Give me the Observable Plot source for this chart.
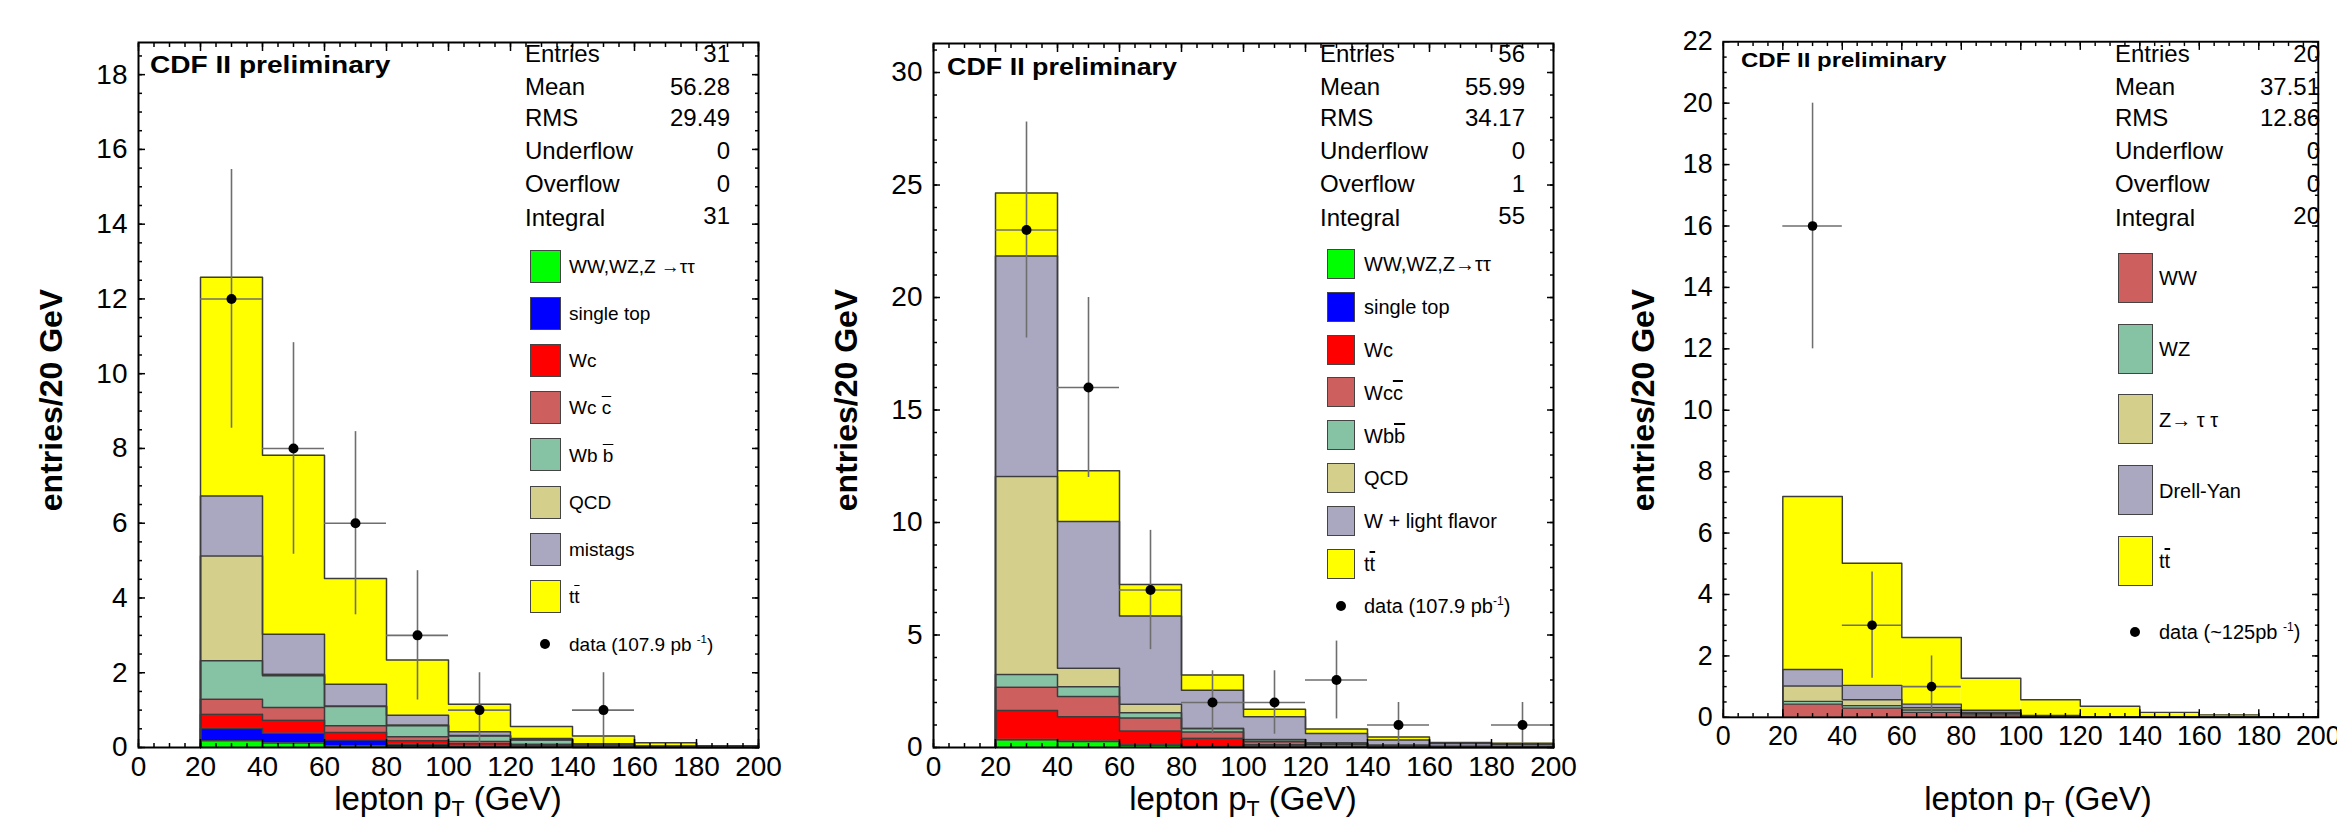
<!DOCTYPE html>
<html><head><meta charset="utf-8">
<script src="https://cdn.jsdelivr.net/npm/d3@7"></script>
<script src="https://cdn.jsdelivr.net/npm/@observablehq/plot@0.6"></script>
<style>
html,body{margin:0;padding:0;width:2337px;height:820px;overflow:hidden;background:#fff;}
body{position:relative;font-family:"Liberation Sans",Arial,Helvetica,sans-serif;color:#000;}
.panel{position:absolute;top:0;height:820px;}
.ov{position:absolute;white-space:nowrap;line-height:1;width:max-content;}
.ol{text-decoration:overline;}
sup{font-size:0.6em;vertical-align:0.7em;line-height:0;}
sub{font-size:0.65em;vertical-align:-0.3em;line-height:0;}
</style></head><body>
<div id="p1" class="panel" style="left:0px"></div>
<div id="p2" class="panel" style="left:800px"></div>
<div id="p3" class="panel" style="left:1600px"></div>
<script>
// ---------- shared ----------
const binLo = [20, 40, 60, 80, 100, 120, 140, 160, 180];
const binHi = [40, 60, 80, 100, 120, 140, 160, 180, 200];
const xTicks = [0, 20, 40, 60, 80, 100, 120, 140, 160, 180, 200];
const statLabels = ["Entries", "Mean", "RMS", "Underflow", "Overflow", "Integral"];

// ---------- panel 1 ----------
const p1Series = ["WW,WZ,Z →ττ", "single top", "Wc", "Wc c̄", "Wb b̄", "QCD", "mistags", "tt̄"];
const p1Labels = ["WW,WZ,Z →ττ", "single top", "Wc", "Wc <span class='ol'>c</span>", "Wb <span class='ol'>b</span>", "QCD", "mistags", "t<span class='ol'>t</span>"];
const p1Colors = ["#00ff00", "#0000ff", "#ff0000", "#cd5f5f", "#86c2a4", "#d4d08c", "#aaa7c0", "#ffff00"];
const p1Ewk      = [0.18, 0.12, 0.04, 0.02, 0.01, 0.005, 0, 0, 0];
const p1SingleTop= [0.33, 0.26, 0.16, 0.07, 0.02, 0.015, 0.01, 0, 0];
const p1Wc       = [0.38, 0.35, 0.20, 0.09, 0.07, 0.03, 0.02, 0.01, 0];
const p1Wcc      = [0.40, 0.34, 0.18, 0.11, 0.06, 0.04, 0.02, 0.01, 0.01];
const p1Wbb      = [1.03, 0.85, 0.52, 0.29, 0.15, 0.11, 0.03, 0.01, 0];
const p1Qcd      = [2.80, 0.04, 0.01, 0.02, 0.01, 0.01, 0, 0, 0];
const p1Mistags  = [1.61, 1.07, 0.58, 0.26, 0.10, 0.03, 0.02, 0.01, 0.01];
const p1Ttbar    = [5.85, 4.79, 2.83, 1.48, 0.74, 0.32, 0.21, 0.09, 0.03];
const p1DataX  = [30, 50, 70, 90, 110, 150];
const p1DataY  = [12, 8, 6, 3, 1, 1];
const p1DataLo = [8.54, 5.17, 3.55, 1.27, 0, 0];
const p1DataHi = [15.46, 10.83, 8.45, 4.73, 2, 2];
const p1DataXLo = [20, 40, 60, 80, 100, 140];
const p1DataXHi = [40, 60, 80, 100, 120, 160];
const p1Stats = ["31", "56.28", "29.49", "0", "0", "31"];
const p1YTicks = [0, 2, 4, 6, 8, 10, 12, 14, 16, 18];
const p1DataLabel = "data (107.9 pb <sup>-1</sup>)";

// ---------- panel 2 ----------
const p2Series = ["WW,WZ,Z→ττ", "single top", "Wc", "Wcc̄", "Wbb̄", "QCD", "W + light flavor", "tt̄"];
const p2Labels = ["WW,WZ,Z→ττ", "single top", "Wc", "Wc<span class='ol'>c</span>", "Wb<span class='ol'>b</span>", "QCD", "W + light flavor", "t<span class='ol'>t</span>"];
const p2Colors = ["#00ff00", "#0000ff", "#ff0000", "#cd5f5f", "#86c2a4", "#d4d08c", "#aaa7c0", "#ffff00"];
const p2Ewk      = [0.34, 0.27, 0.10, 0.03, 0.01, 0.01, 0, 0, 0];
const p2SingleTop= [0.02, 0.01, 0.01, 0.01, 0.01, 0, 0, 0, 0];
const p2Wc       = [1.28, 1.09, 0.62, 0.37, 0.10, 0.05, 0.03, 0.01, 0.01];
const p2Wcc      = [1.04, 0.90, 0.58, 0.28, 0.14, 0.09, 0.05, 0.03, 0.02];
const p2Wbb      = [0.57, 0.43, 0.24, 0.15, 0.09, 0.05, 0.02, 0.01, 0.01];
const p2Qcd      = [8.80, 0.82, 0.37, 0.01, 0.01, 0, 0, 0, 0];
const p2WLight   = [9.80, 6.53, 3.93, 1.69, 1.01, 0.42, 0.23, 0.13, 0.11];
const p2Ttbar    = [2.80, 2.25, 1.40, 0.68, 0.33, 0.20, 0.14, 0.04, 0.04];
const p2DataX  = [30, 50, 70, 90, 110, 130, 150, 190];
const p2DataY  = [23, 16, 7, 2, 2, 3, 1, 1];
const p2DataLo = [18.2, 12, 4.35, 0.59, 0.59, 1.27, 0, 0];
const p2DataHi = [27.8, 20, 9.65, 3.41, 3.41, 4.73, 2, 2];
const p2DataXLo = [20, 40, 60, 80, 100, 120, 140, 180];
const p2DataXHi = [40, 60, 80, 100, 120, 140, 160, 200];
const p2Stats = ["56", "55.99", "34.17", "0", "1", "55"];
const p2YTicks = [0, 5, 10, 15, 20, 25, 30];
const p2DataLabel = "data (107.9 pb<sup>-1</sup>)";

// ---------- panel 3 ----------
const p3Series = ["WW", "WZ", "Z→ τ τ", "Drell-Yan", "tt̄"];
const p3Labels = ["WW", "WZ", "Z→ τ τ", "Drell-Yan", "t<span class='ol'>t</span>"];
const p3Colors = ["#cd5f5f", "#86c2a4", "#d4d08c", "#aaa7c0", "#ffff00"];
const p3WW     = [0.43, 0.30, 0.16, 0.08, 0.02, 0.01, 0, 0, 0];
const p3WZ     = [0.09, 0.08, 0.08, 0.04, 0.01, 0, 0, 0, 0];
const p3Ztt    = [0.50, 0.19, 0.07, 0.04, 0.01, 0.01, 0, 0, 0];
const p3DY     = [0.54, 0.47, 0.12, 0.07, 0.02, 0, 0.01, 0, 0];
const p3Ttbar  = [5.63, 3.98, 2.17, 1.04, 0.51, 0.34, 0.15, 0.08, 0.01];
const p3DataX  = [30, 50, 70];
const p3DataY  = [16, 3, 1];
const p3DataLo = [12, 1.27, 0];
const p3DataHi = [20, 4.73, 2];
const p3DataXLo = [20, 40, 60];
const p3DataXHi = [40, 60, 80];
const p3Stats = ["20", "37.51", "12.86", "0", "0", "20"];
const p3YTicks = [0, 2, 4, 6, 8, 10, 12, 14, 16, 18, 20, 22];
const p3DataLabel = "data (~125pb <sup>-1</sup>)";

const FONT = '"Liberation Sans", Arial, Helvetica, sans-serif';

function overlay(html, css) {
  const d = document.createElement("div");
  d.className = "ov";
  d.innerHTML = html;
  Object.assign(d.style, css);
  document.body.appendChild(d);
  return d;
}

function drawPanel(cfg) {
  const {el, pageLeft, marginLeft, marginTop, width, yMax, yTicks, yMinorStep,
         series, colors, values, dataX, dataY, dataLo, dataHi, dataXLo, dataXHi} = cfg;
  const frameW = 620, bottom = 747;
  const rects = [], outlines = [];
  const cum = binLo.map(() => 0);
  series.forEach((name, i) => {
    const tops = [];
    values[i].forEach((v, j) => {
      rects.push({s: name, x1: binLo[j], x2: binHi[j], y1: cum[j], y2: cum[j] + v});
      cum[j] += v; tops.push(cum[j]);
    });
    outlines.push({s: name, x: binLo[0], y: 0});
    tops.forEach((t, j) => outlines.push({s: name, x: binLo[j], y: t}));
    outlines.push({s: name, x: binHi[binHi.length - 1], y: tops[tops.length - 1]});
    outlines.push({s: name, x: binHi[binHi.length - 1], y: 0});
  });
  const pts = dataX.map((x, i) => ({x, y: dataY[i], lo: dataLo[i], hi: dataHi[i], xl: dataXLo[i], xh: dataXHi[i]}));
  const xMinor = d3.range(0, 200.001, 5);
  const yMinor = d3.range(0, yMax, yMinorStep);
  const blank = () => "";
  const plot = Plot.plot({
    width, height: 820,
    marginLeft, marginRight: width - marginLeft - frameW, marginTop, marginBottom: 820 - bottom,
    style: {fontFamily: FONT, fontSize: "28px", color: "#000", background: "transparent", overflow: "visible"},
    x: {domain: [0, 200]},
    y: {domain: [0, yMax]},
    color: {domain: series, range: colors},
    marks: [
      Plot.rect(rects, {x1: "x1", x2: "x2", y1: "y1", y2: "y2", fill: "s"}),
      Plot.line(outlines, {x: "x", y: "y", z: "s", curve: "step-after", stroke: "#3c3c3c", strokeWidth: 1.5}),
      Plot.ruleX(pts, {x: "x", y1: "lo", y2: "hi", stroke: "#6e6e6e", strokeWidth: 1.6}),
      Plot.ruleY(pts, {y: "y", x1: "xl", x2: "xh", stroke: "#6e6e6e", strokeWidth: 1.6}),
      Plot.dot(pts, {x: "x", y: "y", r: 5, fill: "#000"}),
      Plot.axisX({ticks: xTicks, anchor: "bottom", tickSize: 0, tickPadding: 9, label: null, fontSize: 28}),
      Plot.axisY({ticks: yTicks, anchor: "left", tickSize: 0, tickPadding: 11, label: null, fontSize: 28}),
      Plot.axisX({ticks: xTicks, anchor: "bottom", tickSize: -8, tickFormat: blank, label: null, strokeWidth: 1.5}),
      Plot.axisX({ticks: xMinor, anchor: "bottom", tickSize: -4, tickFormat: blank, label: null, strokeWidth: 1.5}),
      Plot.axisX({ticks: xTicks, anchor: "top", tickSize: -8, tickFormat: blank, label: null, strokeWidth: 1.5}),
      Plot.axisX({ticks: xMinor, anchor: "top", tickSize: -4, tickFormat: blank, label: null, strokeWidth: 1.5}),
      Plot.axisY({ticks: yTicks, anchor: "left", tickSize: -7, tickFormat: blank, label: null, strokeWidth: 1.5}),
      Plot.axisY({ticks: yMinor, anchor: "left", tickSize: -4, tickFormat: blank, label: null, strokeWidth: 1.5}),
      Plot.axisY({ticks: yTicks, anchor: "right", tickSize: -7, tickFormat: blank, label: null, strokeWidth: 1.5}),
      Plot.axisY({ticks: yMinor, anchor: "right", tickSize: -4, tickFormat: blank, label: null, strokeWidth: 1.5}),
      Plot.frame({stroke: "#000", strokeWidth: 2})
    ]
  });
  document.getElementById(el).appendChild(plot);

  // ---- overlays (page coordinates) ----
  const fx = pageLeft + marginLeft;
  const BASE = 0.847;
  overlay("entries/20 GeV", {left: cfg.yTitleX + "px", top: "400px", fontSize: "32px", fontWeight: "bold",
    transform: "translate(-50%,-50%) rotate(-90deg)"});
  overlay("lepton p<sub>T</sub> (GeV)", {left: (fx + frameW / 2) + "px", top: (810 - BASE * 33) + "px",
    fontSize: "33px", transform: "translateX(-50%)"});
  overlay("CDF II preliminary", {left: (fx + cfg.cdf.dx) + "px", top: (cfg.cdf.base - BASE * cfg.cdf.fs) + "px",
    fontSize: cfg.cdf.fs + "px", fontWeight: "bold", transform: `scaleX(${cfg.cdf.sx})`, transformOrigin: "left center"});
  const statBase = [62.5, 95, 126.5, 159.5, 192, 226];
  statLabels.forEach((lab, i) => {
    overlay(lab, {left: (fx + 387) + "px", top: (statBase[i] - BASE * 24) + "px", fontSize: "24px"});
    overlay(cfg.stats[i], {right: (2337 - (fx + 592)) + "px", top: (statBase[i] - (i === 5 ? 2 : 0) - BASE * 24) + "px",
      fontSize: "24px"});
  });
  const L = cfg.legend;
  cfg.labels.forEach((lab, i) => {
    const top = L.top + i * L.step;
    const box = document.createElement("div");
    Object.assign(box.style, {position: "absolute", left: (fx + L.boxDx) + "px", top: top + "px",
      width: L.w + "px", height: L.h + "px", background: colors[i], border: "1.5px solid #444", boxSizing: "border-box"});
    document.body.appendChild(box);
    overlay(lab, {left: (fx + L.textDx) + "px", top: (top + L.h / 2 - 0.49 * L.fs) + "px", fontSize: L.fs + "px"});
  });
  const dot = document.createElement("div");
  Object.assign(dot.style, {position: "absolute", left: (fx + L.dotDx - 5) + "px", top: (L.dotY - 5) + "px",
    width: "10px", height: "10px", borderRadius: "50%", background: "#000"});
  document.body.appendChild(dot);
  overlay(cfg.dataLabel, {left: (fx + L.textDx) + "px", top: (L.dotY - 0.49 * L.fs) + "px", fontSize: L.fs + "px"});
}

drawPanel({el: "p1", pageLeft: 0, marginLeft: 138, marginTop: 42, width: 798, yMax: 18.86, yTicks: p1YTicks, yMinorStep: 0.5,
  series: p1Series, labels: p1Labels, colors: p1Colors,
  values: [p1Ewk, p1SingleTop, p1Wc, p1Wcc, p1Wbb, p1Qcd, p1Mistags, p1Ttbar],
  dataX: p1DataX, dataY: p1DataY, dataLo: p1DataLo, dataHi: p1DataHi, dataXLo: p1DataXLo, dataXHi: p1DataXHi,
  stats: p1Stats, dataLabel: p1DataLabel, yTitleX: 51,
  cdf: {dx: 12, base: 73, fs: 24, sx: 1.17},
  legend: {top: 250, step: 47.1, boxDx: 392, w: 31, h: 33, textDx: 431, fs: 19, dotDx: 407, dotY: 644}});

drawPanel({el: "p2", pageLeft: 800, marginLeft: 133, marginTop: 43, width: 793, yMax: 31.29, yTicks: p2YTicks, yMinorStep: 1,
  series: p2Series, labels: p2Labels, colors: p2Colors,
  values: [p2Ewk, p2SingleTop, p2Wc, p2Wcc, p2Wbb, p2Qcd, p2WLight, p2Ttbar],
  dataX: p2DataX, dataY: p2DataY, dataLo: p2DataLo, dataHi: p2DataHi, dataXLo: p2DataXLo, dataXHi: p2DataXHi,
  stats: p2Stats, dataLabel: p2DataLabel, yTitleX: 846,
  cdf: {dx: 14, base: 75, fs: 24, sx: 1.12},
  legend: {top: 248.7, step: 42.9, boxDx: 394, w: 28, h: 30, textDx: 431, fs: 20, dotDx: 408, dotY: 606}});

drawPanel({el: "p3", pageLeft: 1600, marginLeft: 128, marginTop: 43, width: 768, yMax: 22, yTicks: p3YTicks, yMinorStep: 0.5,
  series: p3Series, labels: p3Labels, colors: p3Colors,
  values: [p3WW, p3WZ, p3Ztt, p3DY, p3Ttbar],
  dataX: p3DataX, dataY: p3DataY, dataLo: p3DataLo, dataHi: p3DataHi, dataXLo: p3DataXLo, dataXHi: p3DataXHi,
  stats: p3Stats, dataLabel: p3DataLabel, yTitleX: 1643,
  cdf: {dx: 13, base: 67, fs: 20, sx: 1.2},
  legend: {top: 252.6, step: 70.9, boxDx: 390, w: 35, h: 50, textDx: 431, fs: 20, dotDx: 407, dotY: 632}});
</script>
</body></html>
